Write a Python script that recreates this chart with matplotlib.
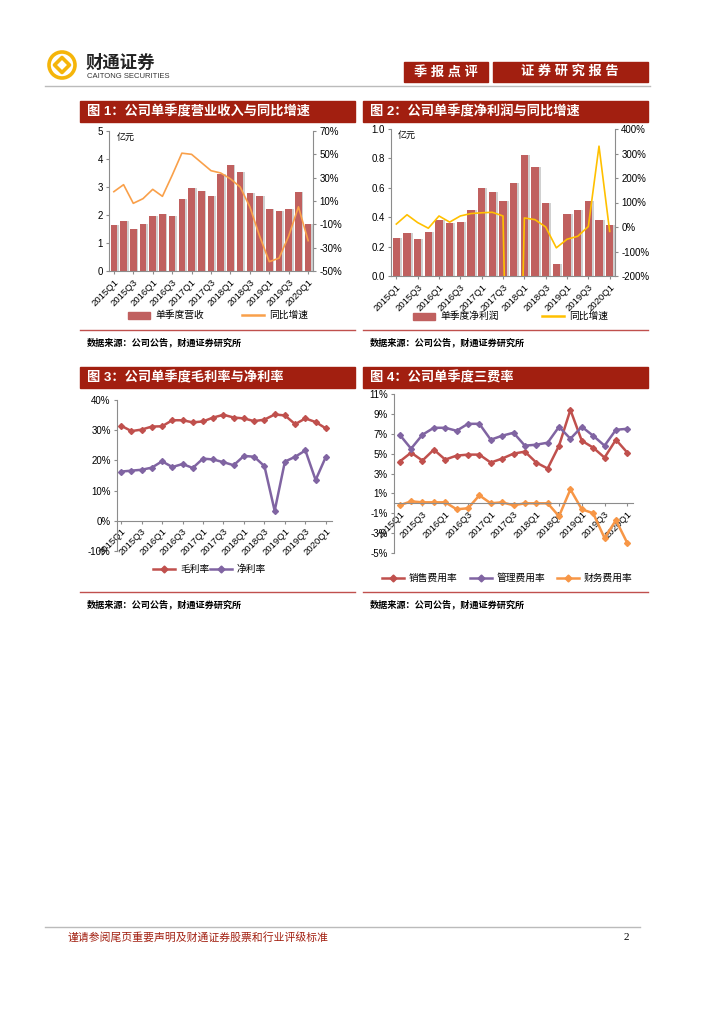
import numpy as np
import matplotlib.pyplot as plt
from matplotlib.patches import Rectangle, Circle, Polygon
from matplotlib.lines import Line2D

plt.rcParams['font.family'] = ['Liberation Sans', 'Noto Sans CJK SC']

# 季度
quarters = ['2015Q1', '2015Q2', '2015Q3', '2015Q4', '2016Q1', '2016Q2', '2016Q3',
            '2016Q4', '2017Q1', '2017Q2', '2017Q3', '2017Q4', '2018Q1', '2018Q2',
            '2018Q3', '2018Q4', '2019Q1', '2019Q2', '2019Q3', '2019Q4', '2020Q1']

# 图1 营收(亿元)与同比(%)
revenue = [1.65, 1.78, 1.50, 1.68, 1.97, 2.05, 1.98, 2.58, 2.97, 2.87, 2.68,
           3.45, 3.80, 3.52, 2.77, 2.68, 2.20, 2.13, 2.20, 2.83, 1.68]
revenue_yoy = [18, 24, 8, 12, 20, 14, 32, 51, 50, 43, 36,
               34, 29, 22, 5, -20, -42, -39, -20, 5, -24]

# 图2 净利润(亿元)与同比(%)
profit = [0.26, 0.29, 0.25, 0.30, 0.38, 0.36, 0.37, 0.45, 0.60, 0.57, 0.51,
          0.63, 0.82, 0.74, 0.50, 0.08, 0.42, 0.45, 0.51, 0.38, 0.35]
profit_yoy = [12, 50, 18, -5, 45, 20, 45, 55, 58, 60, 45,
              -2000, 37, 30, 0, -85, -50, -38, 2, 330, -18]

# 图3 毛利率/净利率(%)
gross_margin = [31.5, 29.7, 30.2, 31.2, 31.3, 33.3, 33.3, 32.6, 32.9, 34.2, 35.1,
                34.2, 33.9, 33.0, 33.5, 35.2, 34.9, 32.0, 33.9, 32.7, 30.6]
net_margin = [16.3, 16.6, 16.9, 17.6, 19.7, 17.8, 18.8, 17.5, 20.6, 20.3, 19.4,
              18.4, 21.5, 21.2, 18.1, 3.3, 19.6, 21.2, 23.3, 13.5, 21.2]

# 图4 三费率(%)
sales_rate = [4.2, 5.1, 4.3, 5.4, 4.4, 4.8, 4.9, 4.9, 4.1, 4.5, 5.0,
              5.2, 4.1, 3.5, 5.8, 9.4, 6.3, 5.6, 4.6, 6.4, 5.1]
admin_rate = [6.9, 5.5, 6.9, 7.6, 7.6, 7.3, 8.0, 8.0, 6.4, 6.8, 7.1,
              5.8, 5.9, 6.1, 7.7, 6.5, 7.7, 6.8, 5.8, 7.4, 7.5]
fin_rate = [-0.2, 0.2, 0.1, 0.1, 0.1, -0.6, -0.5, 0.8, 0.0, 0.1, -0.2,
            0.0, 0.0, 0.0, -1.3, 1.4, -0.6, -1.0, -3.5, -1.7, -4.0]

RED = '#A21F10'
GRAY = '#8C8C8C'
BAR = '#C0605F'
C_RED = '#C0504D'
C_PUR = '#8064A2'
C_ORG = '#F79646'

fig = plt.figure(figsize=(7.24, 10.24), dpi=100)
bg = fig.add_axes([0, 0, 1, 1], zorder=0)
bg.set_xlim(0, 724)
bg.set_ylim(1024, 0)
bg.axis('off')


def px_axes(l, t, r, b):
    a = fig.add_axes([l / 724, 1 - b / 1024, (r - l) / 724, (b - t) / 1024], zorder=2)
    a.set_facecolor('none')
    return a


def style(a, right=False):
    for s in ['top', 'right', 'left', 'bottom']:
        a.spines[s].set_color(GRAY)
        a.spines[s].set_linewidth(0.8)
    a.spines['top'].set_visible(False)
    if not right:
        a.spines['right'].set_visible(False)
    a.tick_params(axis='both', labelsize=7, color=GRAY, length=2.5, width=0.8, pad=2)


def xlabels(a):
    x = np.arange(len(quarters))
    a.set_xticks(x[::2])
    a.set_xticklabels(quarters[::2], rotation=45, ha='right', rotation_mode='anchor', fontsize=6.8)


# ---------- 页眉 ----------
bg.add_patch(Circle((62, 65), 13, fill=False, ec='#F5B50A', lw=2.6))
bg.add_patch(Polygon([(62, 57.5), (69.5, 65), (62, 72.5), (54.5, 65)], closed=True,
                     fill=False, ec='#F5B50A', lw=2.6, joinstyle='round'))
bg.text(86, 62, '财通证券', fontsize=12.5, fontweight='bold', va='center', color='#222222')
bg.text(87, 76, 'CAITONG SECURITIES', fontsize=5.5, va='center', color='#333333')
bg.add_patch(Rectangle((404, 62), 84, 20, color=RED))
bg.text(446, 72, '季 报 点 评', color='white', fontsize=9.5, fontweight='bold', ha='center', va='center')
bg.add_patch(Rectangle((493, 62), 155, 20, color=RED))
bg.text(570, 72, '证 券 研 究 报 告', color='white', fontsize=9.5, fontweight='bold', ha='center', va='center')
bg.add_line(Line2D([45, 650], [86, 86], color='#BBBBBB', lw=1))

# ---------- 标题栏/分隔线/来源 ----------
panels = [(80, 355, 101, '图 1：公司单季度营业收入与同比增速', 330),
          (363, 648, 101, '图 2：公司单季度净利润与同比增速', 330),
          (80, 355, 367, '图 3：公司单季度毛利率与净利率', 592),
          (363, 648, 367, '图 4：公司单季度三费率', 592)]
for l, r, t, title, ly in panels:
    bg.add_patch(Rectangle((l, t), r - l, 21, color=RED))
    bg.text(l + 7, t + 10.5, title, color='white', fontsize=9.5, fontweight='bold', va='center')
    bg.add_line(Line2D([l, r], [ly, ly], color='#C0504D', lw=1))
    bg.text(l + 7, ly + 12, '数据来源：公司公告，财通证券研究所', fontsize=6.6, fontweight='bold', va='center')


def leg_rect(x, y, label):
    bg.add_patch(Rectangle((x, y - 3.5), 22, 7, color=BAR))
    bg.text(x + 27, y, label, fontsize=7, va='center')


def leg_line(x, y, color, label, marker=None):
    bg.add_line(Line2D([x, x + 22], [y, y], color=color, lw=1.8))
    if marker:
        bg.add_line(Line2D([x + 11], [y], color=color, marker=marker, ms=3.5))
    bg.text(x + 27, y, label, fontsize=7, va='center')


x = np.arange(len(quarters))

# ---------- 图1 ----------
ax1 = px_axes(109, 131, 313, 271)
ax1.bar(x + 0.18, revenue, width=0.68, color='#D0D0D0', zorder=1)
ax1.bar(x, revenue, width=0.68, color=BAR, zorder=2)
ax1.set_xlim(-0.5, 20.5)
ax1.set_ylim(0, 5)
ax1.set_yticks(range(0, 6))
style(ax1)
xlabels(ax1)
ax1.text(0.04, 0.985, '亿元', transform=ax1.transAxes, fontsize=6.5, va='top')
ax1t = ax1.twinx()
ax1t.plot(x, revenue_yoy, color='#F9A04A', lw=1.2)
ax1t.set_ylim(-50, 70)
ax1t.set_yticks(range(-50, 71, 20))
ax1t.set_yticklabels([f'{v}%' for v in range(-50, 71, 20)])
style(ax1t, right=True)
ax1t.spines['left'].set_visible(False)
ax1t.spines['bottom'].set_visible(False)
leg_rect(128, 315, '单季度营收')
leg_line(242, 315, '#F9A04A', '同比增速')

# ---------- 图2 ----------
ax2 = px_axes(391, 129, 615, 276)
ax2.bar(x + 0.18, profit, width=0.68, color='#D0D0D0', zorder=1)
ax2.bar(x, profit, width=0.68, color=BAR, zorder=2)
ax2.set_xlim(-0.5, 20.5)
ax2.set_ylim(0, 1.0)
ax2.set_yticks(np.arange(0, 1.01, 0.2))
ax2.set_yticklabels([f'{v:.1f}' for v in np.arange(0, 1.01, 0.2)])
style(ax2)
xlabels(ax2)
ax2.text(0.03, 0.985, '亿元', transform=ax2.transAxes, fontsize=6.5, va='top')
ax2t = ax2.twinx()
ax2t.plot(x, profit_yoy, color='#FFC000', lw=1.2)
ax2t.set_ylim(-200, 400)
ax2t.set_yticks(range(-200, 401, 100))
ax2t.set_yticklabels([f'{v}%' for v in range(-200, 401, 100)])
style(ax2t, right=True)
ax2t.spines['left'].set_visible(False)
ax2t.spines['bottom'].set_visible(False)
leg_rect(413, 316, '单季度净利润')
leg_line(542, 316, '#FFC000', '同比增速')

# ---------- 图3 ----------
ax3 = px_axes(117, 400, 332, 551)
ax3.plot(x, gross_margin, color=C_RED, lw=1.8, marker='D', ms=3)
ax3.plot(x, net_margin, color=C_PUR, lw=1.8, marker='D', ms=3)
ax3.set_xlim(-0.4, 20.6)
ax3.set_ylim(-10, 40)
ax3.set_yticks(range(-10, 41, 10))
ax3.set_yticklabels([f'{v}%' for v in range(-10, 41, 10)])
style(ax3)
ax3.spines['bottom'].set_position(('data', 0))
xlabels(ax3)
leg_line(153, 569, C_RED, '毛利率', 'D')
leg_line(210, 569, C_PUR, '净利率', 'D')

# ---------- 图4 ----------
ax4 = px_axes(394, 394, 633, 553)
ax4.plot(x, sales_rate, color=C_RED, lw=1.8, marker='D', ms=3)
ax4.plot(x, admin_rate, color=C_PUR, lw=1.8, marker='D', ms=3)
ax4.plot(x, fin_rate, color=C_ORG, lw=1.8, marker='D', ms=3)
ax4.set_xlim(-0.5, 20.5)
ax4.set_ylim(-5, 11)
ax4.set_yticks(range(-5, 12, 2))
ax4.set_yticklabels([f'{v}%' for v in range(-5, 12, 2)])
style(ax4)
ax4.spines['bottom'].set_position(('data', 0))
xlabels(ax4)
leg_line(382, 578, C_RED, '销售费用率', 'D')
leg_line(470, 578, C_PUR, '管理费用率', 'D')
leg_line(557, 578, C_ORG, '财务费用率', 'D')

# ---------- 页脚 ----------
bg.add_line(Line2D([45, 640], [927, 927], color='#BBBBBB', lw=1))
bg.text(68, 937, '谨请参阅尾页重要声明及财通证券股票和行业评级标准', fontsize=7.8, color=RED, va='center')
bg.text(624, 937, '2', fontsize=8, family='Liberation Serif', va='center')

fig.savefig('out.png', dpi=100)
